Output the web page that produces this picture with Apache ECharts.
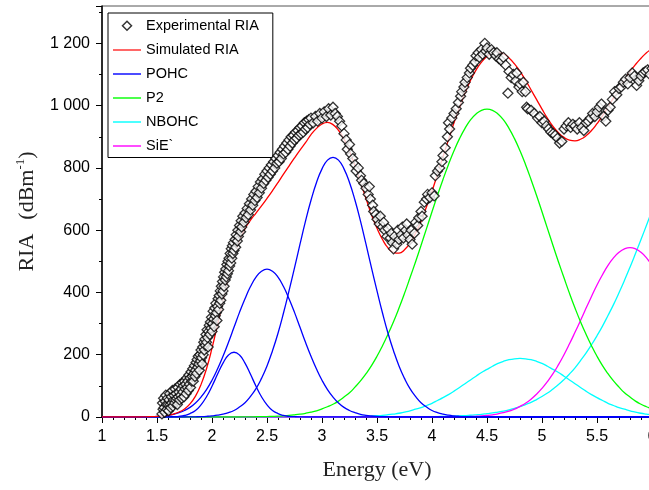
<!DOCTYPE html>
<html><head><meta charset="utf-8">
<script src="https://cdn.jsdelivr.net/npm/echarts@6/dist/echarts.min.js"></script>
<style>html,body{margin:0;padding:0;background:#fff}#c{width:649px;height:490px}</style>
</head><body><div id="c"></div>
<script>
// ---- data ----
const xTicks = [1, 1.5, 2, 2.5, 3, 3.5, 4, 4.5, 5, 5.5, 6];
const yTicks = [0, 200, 400, 600, 800, 1000, 1200];

const experimental = [
[1.545,10],[1.55,45],[1.555,25],[1.56,60],[1.565,30],[1.57,15],[1.575,50],[1.58,70],[1.585,40],[1.59,25],[1.595,60],[1.6,40],[1.605,20],[1.61,55],[1.615,75],[1.62,40],[1.625,30],[1.63,65],[1.635,45],[1.64,85],[1.645,35],[1.65,55],[1.655,70],[1.66,45],[1.665,90],[1.67,55],[1.675,75],[1.68,60],[1.685,40],[1.69,95],[1.695,65],[1.7,80],[1.705,55],[1.71,105],[1.715,70],[1.72,90],[1.725,60],[1.73,110],[1.735,80],[1.74,100],[1.745,65],[1.75,115],[1.755,90],[1.76,105],[1.765,75],[1.77,125],[1.775,95],[1.78,115],[1.785,85],[1.79,135],[1.795,105],[1.8,125],[1.805,95],[1.81,145],[1.815,115],[1.82,130],[1.825,155],[1.83,115],[1.835,140],[1.84,165],[1.845,130],[1.85,150],[1.855,175],[1.86,140],[1.865,185],[1.87,160],[1.875,195],[1.88,170],[1.885,150],[1.89,200],[1.895,180],[1.9,215],[1.905,190],[1.91,170],[1.915,225],[1.92,200],[1.925,240],[1.93,215],[1.935,250],[1.94,230],[1.945,265],[1.95,240],[1.955,280],[1.96,255],[1.965,225],[1.97,275],[1.975,295],[1.98,265],[1.985,305],[1.99,285],[1.995,320],[2,275],
[2.005,300],[2.01,340],[2.015,315],[2.02,290],[2.025,350],[2.03,325],[2.035,365],[2.04,335],[2.045,310],[2.05,355],[2.055,380],[2.06,345],[2.065,390],[2.07,365],[2.075,405],[2.08,375],[2.085,420],[2.09,395],[2.095,435],[2.1,405],[2.105,450],[2.11,420],[2.115,465],[2.12,440],[2.125,475],[2.13,450],[2.135,490],[2.14,460],[2.145,500],[2.15,470],[2.155,510],[2.16,485],[2.165,525],[2.17,495],[2.175,540],[2.18,510],[2.185,550],[2.19,525],[2.195,560],[2.2,535],[2.21,570],[2.215,545],[2.22,585],[2.23,565],[2.235,600],[2.24,580],[2.25,615],[2.26,595],[2.265,630],[2.27,610],[2.28,645],[2.29,625],[2.3,655],[2.31,640],[2.32,670],[2.33,650],[2.34,685],[2.35,665],[2.36,700],[2.37,680],[2.38,715],[2.39,695],[2.4,725],[2.41,705],[2.42,740],[2.43,720],[2.44,755],[2.45,735],[2.46,765],[2.47,750],[2.48,780],[2.49,760],[2.5,790],[2.51,770],[2.52,800],[2.53,780],[2.54,810],[2.55,790],[2.56,820],[2.57,800],[2.58,830],[2.59,815],[2.6,840],[2.61,820],[2.62,850],[2.63,830],[2.64,860],[2.65,845],[2.66,870],[2.67,850],[2.68,880],[2.69,860],[2.7,890],[2.71,870],[2.72,900],[2.73,880],[2.74,905],[2.75,890],[2.76,915],[2.77,895],[2.78,920],[2.79,905],[2.8,930],[2.81,910],[2.82,935],[2.83,915],[2.84,945],[2.85,925],[2.86,950],[2.87,930],[2.88,955],[2.89,940],[2.9,960],[2.92,945],[2.94,965],[2.96,950],[2.98,975],[3,960],[3.02,980],[3.04,965],[3.06,990],[3.08,970],[3.1,995],[3.12,975],[3.14,965],[3.16,950],[3.18,935],
[3.2,910],[3.22,890],[3.23,860],[3.25,875],[3.26,845],[3.28,830],[3.3,810],[3.31,790],[3.33,800],[3.35,775],[3.36,760],[3.38,750],[3.4,735],[3.42,715],[3.43,740],[3.44,700],[3.46,680],[3.47,660],[3.49,650],[3.5,635],[3.52,620],[3.53,645],[3.55,610],[3.56,625],[3.57,600],[3.59,580],[3.6,605],[3.62,575],[3.63,590],[3.64,560],[3.65,540],[3.66,580],[3.68,555],[3.69,600],[3.7,570],[3.72,585],[3.73,610],[3.74,575],[3.76,600],[3.77,620],[3.78,585],[3.8,570],[3.81,600],[3.82,555],[3.84,590],[3.85,625],[3.87,615],[3.88,640],[3.9,660],[3.91,645],[3.93,690],[3.95,700],[3.96,715],[3.98,705],[4,720],[4.02,710],[4.03,775],[4.05,790],[4.07,800],[4.09,820],[4.1,840],[4.12,865],[4.14,900],[4.15,945],[4.16,925],[4.18,960],[4.2,975],[4.22,990],[4.24,1010],[4.26,1030],[4.27,1045],[4.29,1060],[4.3,1075],[4.32,1090],[4.34,1105],[4.35,1120],[4.37,1130],[4.39,1140],[4.4,1160],[4.42,1170],[4.43,1155],[4.45,1180],[4.46,1165],[4.48,1200],[4.49,1175],[4.5,1185],[4.52,1165],[4.54,1180],[4.56,1170],[4.58,1160],[4.59,1170],[4.61,1150],[4.63,1145],[4.65,1155],[4.67,1130],[4.69,1040],[4.7,1110],[4.72,1090],[4.74,1100],[4.76,1080],[4.77,1105],[4.79,1060],[4.8,1070],[4.82,1045],[4.83,1075],[4.85,1045],[4.86,995],[4.87,990],[4.9,985],[4.93,975],[4.96,960],[4.98,965],[5,945],[5.02,950],[5.04,935],[5.06,925],[5.08,915],[5.1,910],[5.12,905],[5.14,895],[5.16,880],[5.18,885],[5.2,925],[5.22,935],[5.24,945],[5.26,930],[5.28,940],[5.3,935],[5.32,925],[5.34,945],[5.36,930],[5.38,920],[5.4,945],[5.42,950],[5.44,960],[5.46,975],[5.48,965],[5.5,980],[5.52,995],[5.54,1005],[5.56,965],[5.58,950],[5.6,985],[5.62,995],[5.64,1020],[5.66,1045],[5.68,1035],[5.7,1055],[5.72,1060],[5.74,1075],[5.76,1085],[5.78,1070],[5.8,1090],[5.82,1105],[5.84,1095],[5.86,1065],[5.88,1080],[5.9,1095],[5.92,1105],[5.94,1110],[5.96,1115],[5.98,1100],[6,1120]
];

const simulated = [[1,0],[1.35,0],[1.4,0.6],[1.45,1],[1.5,1.8],[1.55,3.2],[1.6,5.6],[1.65,9.6],[1.7,16],[1.75,26],[1.8,42],[1.85,67],[1.9,104],[1.95,155],[2,221],[2.05,297],[2.1,377],[2.15,453],[2.2,517],[2.25,567],[2.3,605],[2.35,632],[2.4,655],[2.45,678],[2.5,702],[2.55,727],[2.6,753],[2.65,780],[2.7,806],[2.75,832],[2.8,857],[2.85,881],[2.9,907],[2.95,927],[3,941],[3.05,946],[3.1,939],[3.15,921],[3.2,893],[3.25,853],[3.3,807],[3.35,755],[3.4,702],[3.45,650],[3.5,606],[3.55,570],[3.6,543],[3.65,529],[3.7,526],[3.75,537],[3.8,558],[3.85,590],[3.9,628],[3.95,675],[4,725],[4.05,780],[4.1,836],[4.15,891],[4.2,945],[4.25,995],[4.3,1041],[4.35,1081],[4.4,1114],[4.45,1140],[4.5,1158],[4.55,1168],[4.6,1171],[4.65,1166],[4.7,1153],[4.75,1134],[4.8,1110],[4.85,1082],[4.9,1051],[4.95,1020],[5,989],[5.05,959],[5.1,933],[5.15,913],[5.2,898],[5.25,889],[5.3,887],[5.35,892],[5.4,903],[5.45,920],[5.5,942],[5.55,967],[5.6,996],[5.65,1025],[5.7,1054],[5.75,1082],[5.8,1109],[5.85,1132],[5.9,1152],[5.95,1170],[6,1183]];

const pohcA = [[1,0],[1.55,0],[1.6,0.3],[1.65,1],[1.7,2],[1.75,5],[1.8,11],[1.85,21],[1.9,39],[1.95,65],[2,99],[2.05,137],[2.1,173],[2.15,199],[2.2,208],[2.25,199],[2.3,173],[2.35,137],[2.4,99],[2.45,65],[2.5,39],[2.55,21],[2.6,11],[2.65,5],[2.7,2],[2.75,1],[2.8,0.3],[2.85,0],[6,0]];
const pohcB = [[1,0],[1.35,0],[1.4,0.6],[1.45,1],[1.5,1.8],[1.55,3.2],[1.6,5.3],[1.65,8.6],[1.7,14],[1.75,21],[1.8,31],[1.85,45],[1.9,64],[1.95,88],[2,118],[2.05,154],[2.1,195],[2.15,240],[2.2,288],[2.25,336],[2.3,380],[2.35,419],[2.4,449],[2.45,468],[2.5,475],[2.55,468],[2.6,449],[2.65,419],[2.7,380],[2.75,336],[2.8,288],[2.85,240],[2.9,195],[2.95,154],[3,118],[3.05,88],[3.1,64],[3.15,45],[3.2,31],[3.25,21],[3.3,14],[3.35,8.6],[3.4,5.3],[3.45,3.2],[3.5,1.8],[3.55,1],[3.6,0.6],[3.65,0],[6,0]];
const pohcC = [[1,0],[1.75,0],[1.8,0.4],[1.85,0.7],[1.9,1.2],[1.95,2.1],[2,3.5],[2.05,5.7],[2.1,9.1],[2.15,14],[2.2,21],[2.25,32],[2.3,46],[2.35,66],[2.4,91],[2.45,124],[2.5,164],[2.55,213],[2.6,269],[2.65,334],[2.7,405],[2.75,479],[2.8,555],[2.85,629],[2.9,696],[2.95,753],[3,797],[3.05,825],[3.1,834],[3.15,825],[3.2,797],[3.25,753],[3.3,696],[3.35,629],[3.4,555],[3.45,479],[3.5,405],[3.55,334],[3.6,269],[3.65,213],[3.7,164],[3.75,124],[3.8,91],[3.85,66],[3.9,46],[3.95,32],[4,21],[4.05,14],[4.1,9.1],[4.15,5.7],[4.2,3.5],[4.25,2.1],[4.3,1.2],[4.35,0.7],[4.4,0.4],[4.45,0],[6,0]];
const p2Band = [[1,0],[2.25,0],[2.3,0.4],[2.35,0.5],[2.4,0.8],[2.45,1.1],[2.5,1.5],[2.55,2.1],[2.6,2.8],[2.65,3.8],[2.7,5.1],[2.75,6.9],[2.8,9.1],[2.85,11.9],[2.9,15.5],[2.95,20],[3,26],[3.05,33],[3.1,41],[3.15,51],[3.2,64],[3.25,78],[3.3,96],[3.35,116],[3.4,139],[3.45,165],[3.5,195],[3.55,229],[3.6,266],[3.65,306],[3.7,350],[3.75,397],[3.8,447],[3.85,498],[3.9,551],[3.95,605],[4,659],[4.05,712],[4.1,763],[4.15,811],[4.2,855],[4.25,894],[4.3,927],[4.35,954],[4.4,973],[4.45,985],[4.5,989],[4.55,985],[4.6,973],[4.65,954],[4.7,927],[4.75,894],[4.8,855],[4.85,811],[4.9,763],[4.95,712],[5,659],[5.05,605],[5.1,551],[5.15,498],[5.2,447],[5.25,397],[5.3,350],[5.35,306],[5.4,266],[5.45,229],[5.5,195],[5.55,165],[5.6,139],[5.65,116],[5.7,96],[5.75,78],[5.8,64],[5.85,51],[5.9,41],[5.95,33],[6,26]];
const nbohcA = [[1,0],[3.05,0],[3.1,0.3],[3.15,0.4],[3.2,0.6],[3.25,0.8],[3.3,1.2],[3.35,1.6],[3.4,2.3],[3.45,3.1],[3.5,4.2],[3.55,5.5],[3.6,7.3],[3.65,9.5],[3.7,12],[3.75,16],[3.8,20],[3.85,25],[3.9,30],[3.95,37],[4,44],[4.05,53],[4.1,62],[4.15,72],[4.2,83],[4.25,95],[4.3,107],[4.35,119],[4.4,131],[4.45,143],[4.5,153],[4.55,163],[4.6,172],[4.65,179],[4.7,184],[4.75,187],[4.8,188],[4.85,187],[4.9,184],[4.95,179],[5,172],[5.05,163],[5.1,153],[5.15,143],[5.2,131],[5.25,119],[5.3,107],[5.35,95],[5.4,83],[5.45,72],[5.5,62],[5.55,53],[5.6,44],[5.65,37],[5.7,30],[5.75,25],[5.8,20],[5.85,16],[5.9,12],[5.95,9.5],[6,7.3]];
const nbohcB = [[1,0],[3.65,0],[3.7,0.2],[3.75,0.3],[3.8,0.4],[3.85,0.5],[3.9,0.7],[3.95,0.9],[4,1.1],[4.05,1.4],[4.1,1.8],[4.15,2.3],[4.2,2.9],[4.25,3.6],[4.3,4.5],[4.35,5.6],[4.4,7],[4.45,8.6],[4.5,11],[4.55,13],[4.6,16],[4.65,19],[4.7,23],[4.75,28],[4.8,33],[4.85,40],[4.9,47],[4.95,56],[5,66],[5.05,77],[5.1,90],[5.15,104],[5.2,120],[5.25,138],[5.3,158],[5.35,181],[5.4,205],[5.45,232],[5.5,261],[5.55,292],[5.6,326],[5.65,361],[5.7,399],[5.75,439],[5.8,481],[5.85,525],[5.9,570],[5.95,616],[6,663]];
const sieBand = [[1,0],[4.05,0],[4.1,0.2],[4.15,0.3],[4.2,0.4],[4.25,0.7],[4.3,1],[4.35,1.6],[4.4,2.3],[4.45,3.4],[4.5,5],[4.55,7.1],[4.6,10],[4.65,14],[4.7,19],[4.75,25],[4.8,34],[4.85,44],[4.9,57],[4.95,73],[5,92],[5.05,114],[5.1,139],[5.15,168],[5.2,200],[5.25,235],[5.3,272],[5.35,310],[5.4,349],[5.45,387],[5.5,424],[5.55,457],[5.6,487],[5.65,511],[5.7,529],[5.75,540],[5.8,544],[5.85,540],[5.9,529],[5.95,511],[6,487]];

// ---- chart ----
const chart = echarts.init(document.getElementById('c'), null, {renderer: 'canvas'});
const sans = 'Liberation Sans, Arial, sans-serif';
const serif = 'Liberation Serif, Times New Roman, serif';
const lineIcon = 'path://M0,0L28,0L28,1.6L0,1.6Z';
function lineSeries(name, data, color) {
  return {name, type: 'line', data, color, symbol: 'none', showSymbol: false, smooth: true,
    lineStyle: {color, width: 1.3}, itemStyle: {color}, emphasis: {disabled: true}, z: 2};
}
chart.setOption({
  animation: false,
  backgroundColor: '#fff',
  grid: {left: 102, top: 6, right: -3, bottom: 73, show: true, borderColor: '#555', borderWidth: 1, outerBoundsMode: 'none', containLabel: false},
  legend: {
    orient: 'vertical', left: 108, top: 13, itemWidth: 28, itemHeight: 14, itemGap: 9,
    padding: [5, 14, 4, 5], borderColor: '#000', borderWidth: 1, backgroundColor: '#fff',
    textStyle: {fontFamily: sans, fontSize: 14.5, color: '#000'},
    data: [
      {name: 'Experimental RIA', icon: 'path://M0,0M14,14M7,2.5L11.5,7L7,11.5L2.5,7Z', itemStyle: {color: '#fff', borderColor: '#000', borderWidth: 1.5}},
      {name: 'Simulated RIA', icon: lineIcon, itemStyle: {color: '#ff4040', borderWidth: 0}},
      {name: 'POHC', icon: lineIcon, itemStyle: {color: '#2020ff', borderWidth: 0}},
      {name: 'P2', icon: lineIcon, itemStyle: {color: '#20ff20', borderWidth: 0}},
      {name: 'NBOHC', icon: lineIcon, itemStyle: {color: '#20ffff', borderWidth: 0}},
      {name: 'SiE`', icon: lineIcon, itemStyle: {color: '#ff20ff', borderWidth: 0}}
    ]
  },
  xAxis: {
    type: 'value', min: xTicks[0], max: xTicks[xTicks.length - 1], interval: 0.5,
    axisLine: {show: true, onZero: false, lineStyle: {color: '#000', width: 1.5}},
    axisTick: {show: true, length: 6, lineStyle: {color: '#000', width: 1}},
    minorTick: {show: true, splitNumber: 5, length: 3, lineStyle: {color: '#000', width: 1}},
    axisLabel: {fontFamily: sans, fontSize: 16, color: '#000', margin: 12},
    splitLine: {show: false},
    name: 'Energy (eV)', nameLocation: 'middle', nameGap: 42,
    nameTextStyle: {fontFamily: serif, fontSize: 22, color: '#222'}
  },
  yAxis: {
    type: 'value', min: yTicks[0], max: 1320, interval: 200,
    axisLine: {show: true, lineStyle: {color: '#000', width: 1.5}},
    axisTick: {show: true, length: 6, lineStyle: {color: '#000', width: 1}},
    minorTick: {show: true, splitNumber: 2, length: 3, lineStyle: {color: '#000', width: 1}},
    axisLabel: {fontFamily: sans, fontSize: 16, color: '#000', margin: 12, showMaxLabel: false,
      formatter: v => (yTicks.indexOf(v) < 0 ? '' : (v >= 1000 ? String(v).replace(/(\d)(\d{3})$/, '$1 $2') : String(v)))},
    splitLine: {show: false},
    name: '{a|RIA}{g|}{a|(dBm}{s|-1}{a|)}', nameLocation: 'middle', nameGap: 62,
    nameTextStyle: {
      rich: {
        a: {fontFamily: serif, fontSize: 22, color: '#222', lineHeight: 26},
        g: {width: 14},
        s: {fontFamily: serif, fontSize: 13, color: '#222', lineHeight: 14, verticalAlign: 'top'}
      }
    }
  },
  series: [
    lineSeries('NBOHC', nbohcB, '#00ffff'),
    lineSeries('NBOHC', nbohcA, '#00ffff'),
    lineSeries('SiE`', sieBand, '#ff00ff'),
    lineSeries('P2', p2Band, '#00ff00'),
    lineSeries('POHC', pohcC, '#0000ff'),
    lineSeries('POHC', pohcB, '#0000ff'),
    lineSeries('POHC', pohcA, '#0000ff'),
    Object.assign(lineSeries('Simulated RIA', simulated, '#ff0000'), {z: 3}),
    {name: 'Experimental RIA', type: 'scatter', data: experimental, symbol: 'diamond', symbolSize: 10,
      itemStyle: {color: '#fff', borderColor: '#000', borderWidth: 1.3}, emphasis: {disabled: true}, z: 4}
  ]
});
</script></body></html>
